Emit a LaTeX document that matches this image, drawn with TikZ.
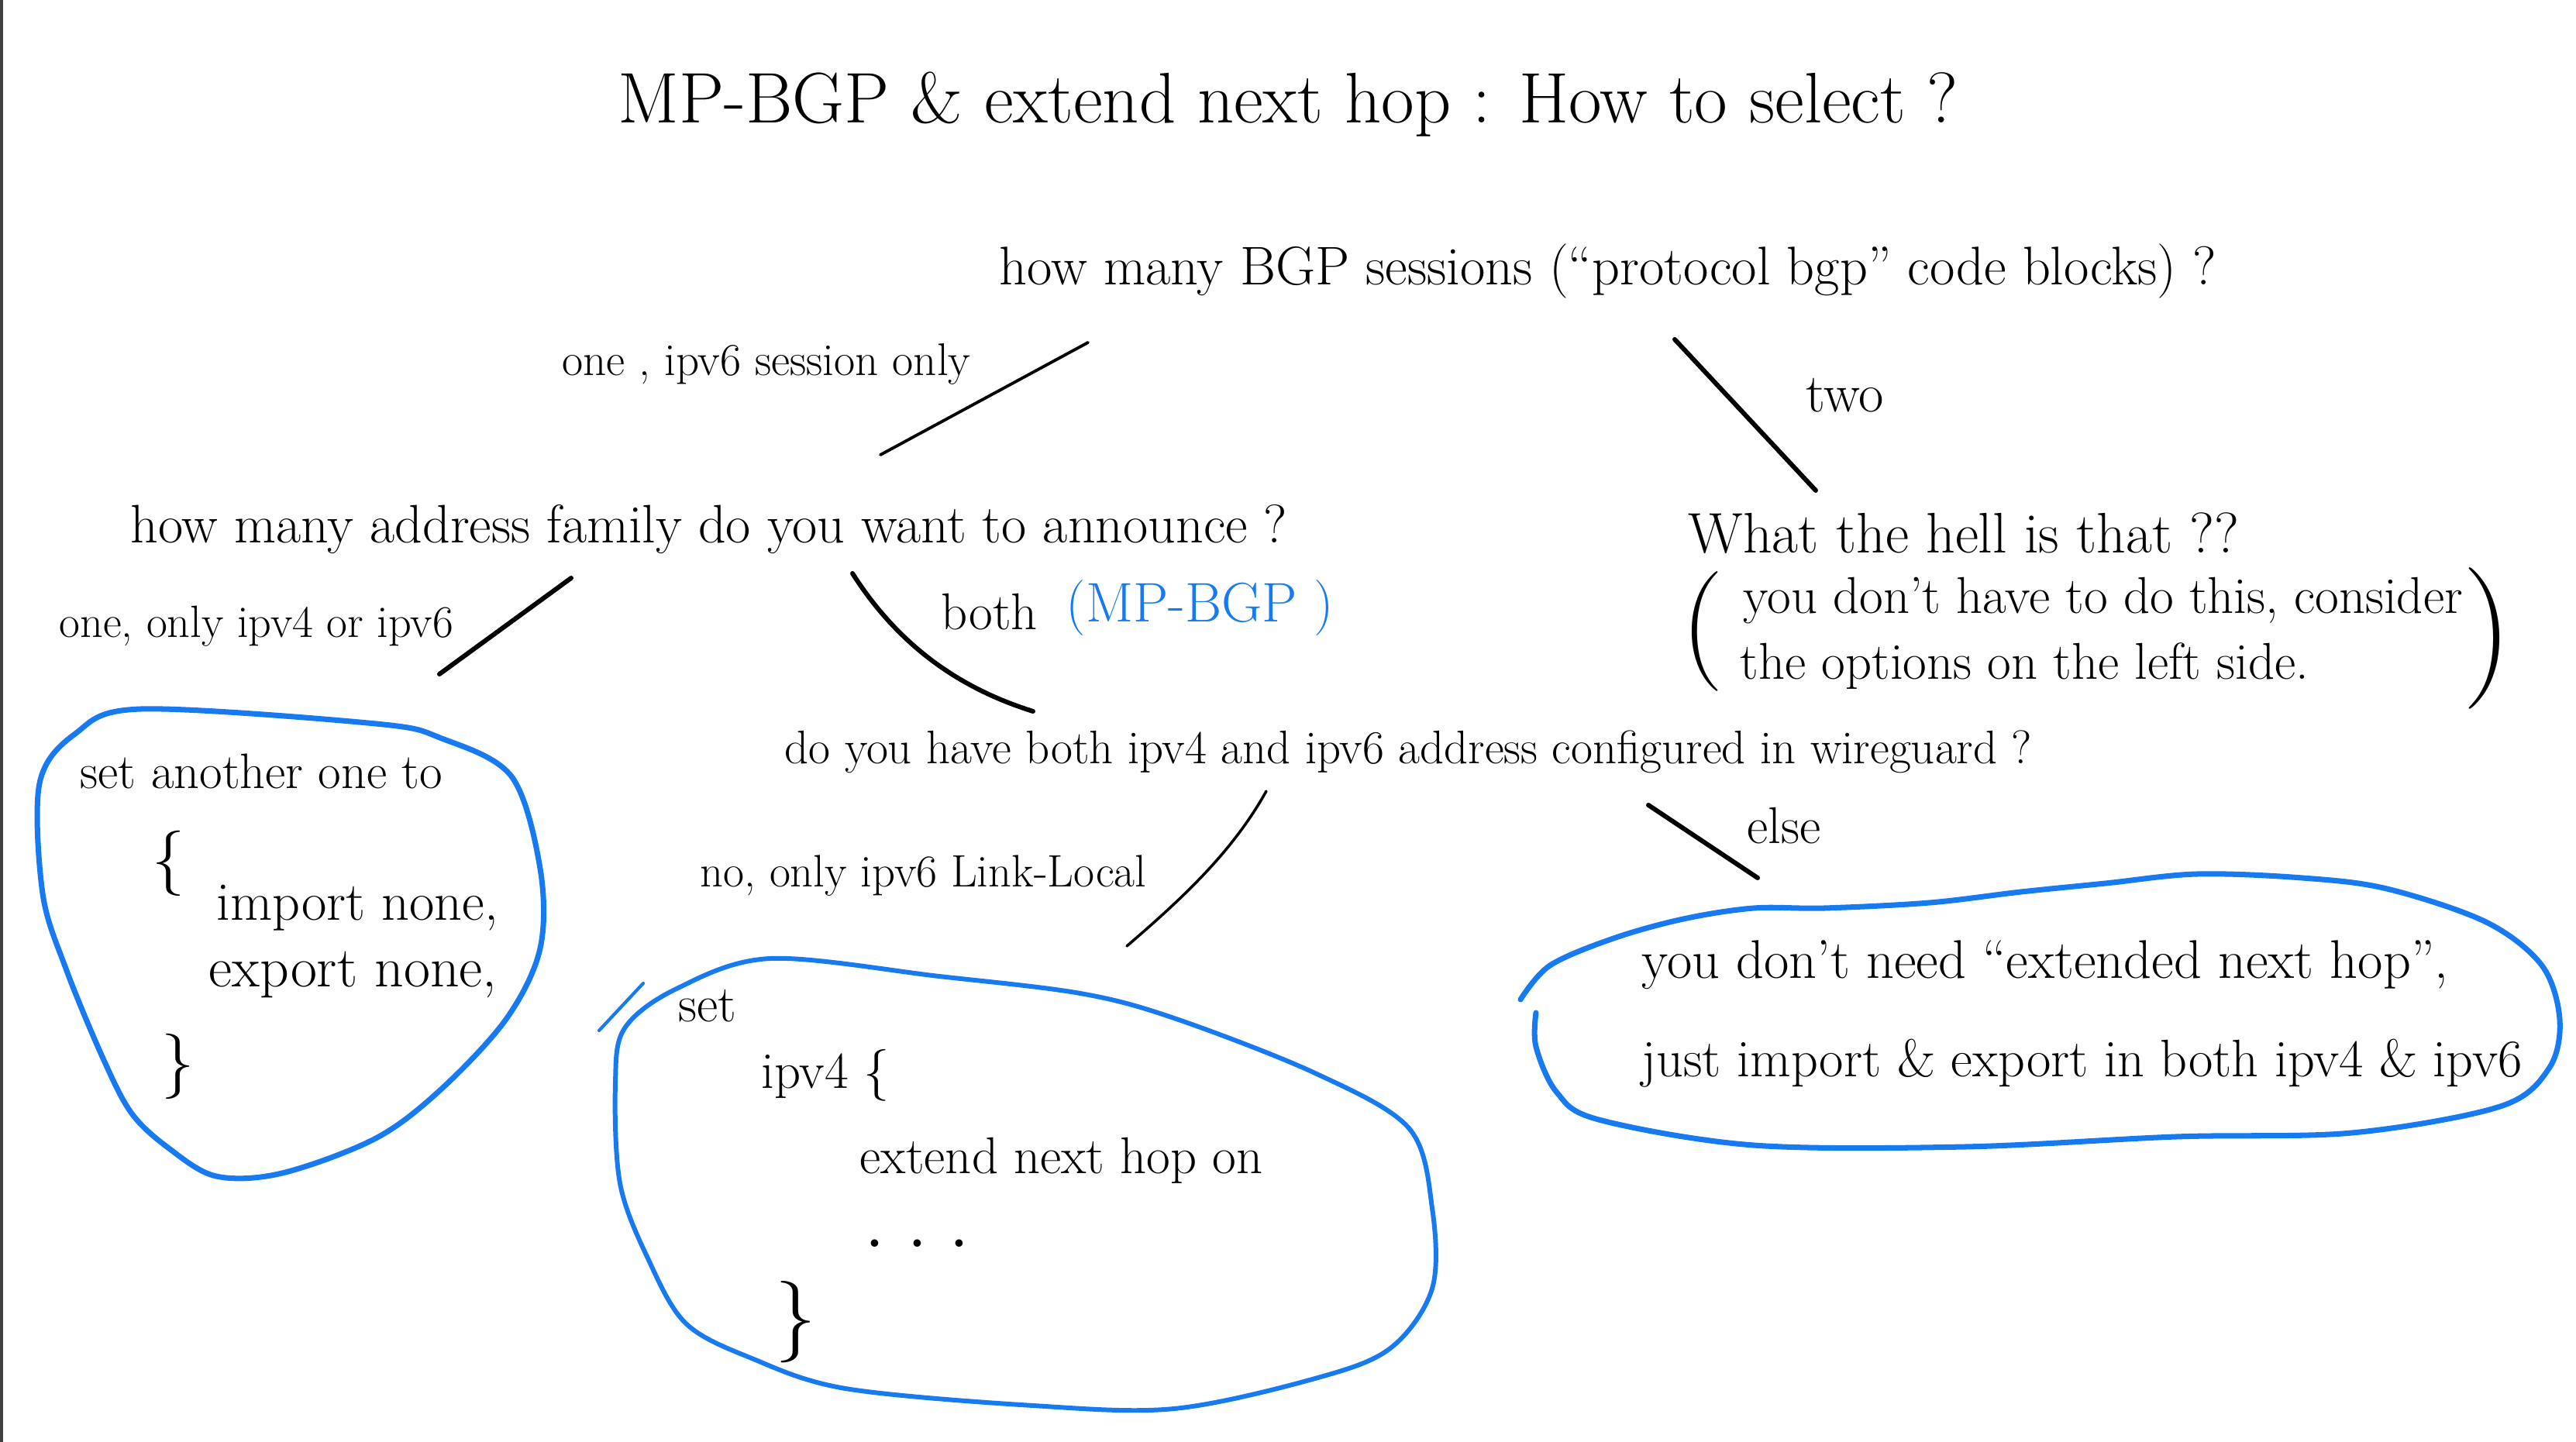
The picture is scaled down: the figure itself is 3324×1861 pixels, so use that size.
\documentclass[tikz,border=0pt]{standalone}
\usepackage{xcolor}
\usepackage{tikz}
\usetikzlibrary{positioning, calc}

\definecolor{penblue}{RGB}{24,122,240}

\tikzset{
  note/.style={inner sep=0pt, anchor=west, font=\fontsize{#1}{#1}\selectfont},
  note/.default=19,
  ink/.style={line width=1.7pt, line cap=round},
  bubble/.style={draw=penblue, line width=2pt, line cap=round, line join=round},
}

\begin{document}
\begin{tikzpicture}[x=0.1mm, y=-0.1mm]
		% Page
		\fill[white] (0,0) rectangle (3324,1861);
		\useasboundingbox (0,0) rectangle (3324,1861);
		\draw[line width=1pt, black!75] (2,0) -- (2,1861);
		
		% Title
		\node[note=26.3] (title) at (797,135) {MP-BGP \& extend next hop : How to select ?};
		
		% Questions
		\node[note=20] (qsess) at (1289,350) {how many BGP sessions (``protocol bgp'' code blocks) ?};
		\node[note=19.9] (qfam) at (168,683) {how many address family do you want to announce ?};
		\node[note=21] (qhell) at (2178,688) {What the hell is that ??};
		\node[note=17.3] (qaddr) at (1012,970) {do you have both ipv4 and ipv6 address configured in wireguard ?};
		
		% Answers on the branches
		\node[note=16.8] (aone) at (725,470) {one , ipv6 session only};
		\node[note=20] (atwo) at (2330,510) {two};
		\node[note=16.6] (aonly) at (76,808) {one, only ipv4 or ipv6};
		\node[note] (aboth) at (1214,790) {both};
		\node[note=20.5, text=penblue] (ampbgp) at (1375,785) {(MP-BGP )};
		\node[note=16.7] (alink) at (903,1130) {no, only ipv6 Link-Local};
		\node[note] (aelse) at (2254,1066) {else};
		
		% Side remark in brackets
		\node[note] (hintA) at (2249,775) {you don't have to do this, consider};
		\node[note] (hintB) at (2245,860) {the options on the left side.};
		\node[inner sep=0pt, font=\fontsize{44}{44}\selectfont] (lpar) at (2197,815) {(};
		\node[inner sep=0pt, font=\fontsize{52}{52}\selectfont] (rpar) at (3210,824) {)};
		
		% Branch strokes
		\coordinate (s1a) at (1404,442);  \coordinate (s1b) at (1136,587);
		\coordinate (s2a) at (2161,438);  \coordinate (s2b) at (2343,633);
		\coordinate (s3a) at (737,746);   \coordinate (s3b) at (567,870);
		\coordinate (s4a) at (1100,740);  \coordinate (s4b) at (1333,918);
		\coordinate (s5a) at (1634,1021); \coordinate (s5b) at (1454,1221);
		\coordinate (s6a) at (2127,1039); \coordinate (s6b) at (2268,1133);
		\draw[ink, line width=1.1pt] (s1a) -- (s1b);
		\draw[ink] (s2a) -- (s2b);
		\draw[ink] (s3a) -- (s3b);
		\draw[ink] (s4a) .. controls (1170,850) and (1260,895) .. (s4b);
		\draw[ink, line width=1pt] (s5a) .. controls (1590,1100) and (1525,1160) .. (s5b);
		\draw[ink] (s6a) -- (s6b);
		
		% Left bubble: one family only
		\draw[bubble] plot[smooth cycle, tension=0.55] coordinates {
			(182,915) (485,934) (570,953) (660,1002) (697,1121) (697,1224)
			(654,1314) (570,1405) (485,1469) (364,1514) (279,1518) (218,1482)
			(170,1437) (133,1366) (85,1250) (55,1153) (51,1011) (97,947)};
		\node[note=18.3] (setother) at (103,995) {set another one to};
		\node[inner sep=0pt, font=\fontsize{24}{24}\selectfont] (lbrA) at (218,1114) {\{};
		\node[note=20] (impnone) at (279,1172) {import none,};
		\node[note=21] (expnone) at (269,1258) {export none,};
		\node[inner sep=0pt, font=\fontsize{24}{24}\selectfont] (rbrA) at (230,1376) {\}};
		
		% Middle bubble: link-local only
		\draw[bubble, line width=1.7pt] plot[smooth cycle, tension=0.55] coordinates {
			(994,1237) (1212,1260) (1394,1282) (1515,1314) (1697,1385) (1818,1456)
			(1848,1559) (1848,1663) (1794,1740) (1697,1779) (1515,1818) (1333,1814)
			(1091,1792) (970,1753) (885,1708) (836,1624) (800,1527) (794,1398)
			(806,1327) (873,1276)};
		\draw[bubble, line width=1.2pt] (830,1269) -- (773,1330);
		\node[note] (setnh) at (875,1298) {set};
		\node[note] (ipvfour) at (982,1388) {ipv4 \{};
		\node[note] (extnh) at (1109,1498) {extend next hop on};
		\node[note, font=\fontsize{19}{19}\bfseries] (dots) at (1118,1605) {. . .};
		\node[inner sep=0pt, font=\fontsize{30}{30}\selectfont] (rbrB) at (1027,1706) {\}};
		
		% Right bubble: both addresses
		\draw[bubble] plot[smooth, tension=0.55] coordinates {
			(1962,1290) (2000,1246) (2082,1211) (2172,1186) (2263,1172) (2354,1172)
			(2490,1165) (2608,1151) (2717,1140) (2835,1128) (2971,1133) (3080,1147)
			(3208,1190) (3280,1246) (3303,1316) (3289,1379) (3226,1428) (3035,1462)
			(2808,1467) (2536,1480) (2263,1478) (2063,1445) (2009,1410) (1982,1351)
			(1982,1307)};
		\node[note=20] (noneed) at (2118,1245) {you don't need ``extended next hop'',};
		\node[note=19.4] (justimp) at (2118,1372) {just import \& export in both ipv4 \& ipv6};
	\end{tikzpicture}
\end{document}
